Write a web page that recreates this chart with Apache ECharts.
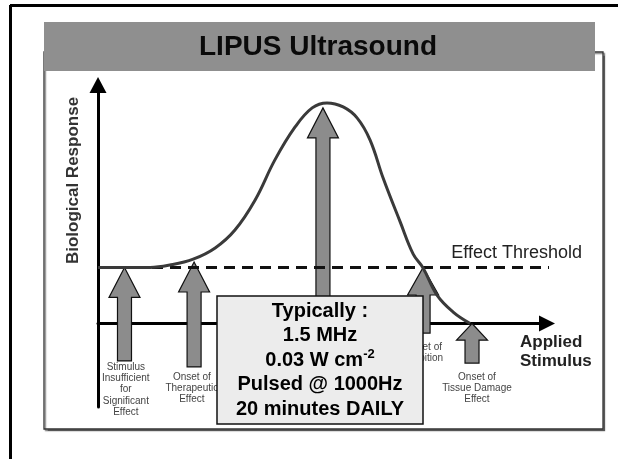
<!DOCTYPE html>
<html>

<head>
    <meta charset="utf-8">
    <title>LIPUS Ultrasound</title>
    <script src="https://cdn.jsdelivr.net/npm/echarts@6/dist/echarts.min.js"></script>
    <style>
        html, body { margin: 0; padding: 0; background: #fff; }
        #main { width: 618px; height: 459px; }
    </style>
</head>

<body>
    <div id="main"></div>
    <script type="text/javascript">
        // dose-response curve (applied stimulus -> biological response)
        var curveX = [0, 11.6, 16.0, 21.2, 26.1, 30.5, 35.0, 39.4, 43.9, 47.7, 51.0, 54.6, 57.7, 60.6, 63.5, 67.3, 70.2, 72.4, 75.5, 79.1, 82.9];
        var curveY = [23.5, 23.5, 24.5, 27.0, 31.7, 39.2, 51.8, 68.6, 82.4, 90.4, 92.5, 90.8, 86.2, 76.9, 61.0, 42.6, 29.1, 23.3, 11.9, 4.8, 0];
        var threshold = 23.5;
        var thresholdEnd = 101.3;

        // gray arrows: x, tip, base
        var arrowX = [5.9, 21.4, 50.1, 72.4, 83.3];
        var arrowTip = [23.5, 25.8, 90.4, 23.5, 0];
        var arrowBase = [-15.7, -18.2, -15, -4.0, -16.6];

        // small captions under the arrows
        var labelText = [
            'Stimulus\nInsufficient\nfor\nSignificant\nEffect',
            'Onset of\nTherapeutic\nEffect',
            'Onset of\nInhibition',
            'Onset of\nTissue Damage\nEffect'
        ];
        var labelX = [6.2, 20.9, 72.4, 84.4];
        var labelY = [-15.9, -20.1, -7.5, -20.1];

        var boxLines = ['Typically :', '1.5 MHz', '0.03 W cm{sup|-2}', 'Pulsed @ 1000Hz', '20 minutes DAILY'];

        var chart = echarts.init(document.getElementById('main'), null, { renderer: 'canvas' });

        var curveData = curveX.map(function (x, i) { return [x, curveY[i]]; });
        var arrowData = arrowX.map(function (x, i) { return [x, arrowTip[i], arrowBase[i]]; });
        var labelData = labelX.map(function (x, i) { return [x, labelY[i], i]; });

        var option = {
            backgroundColor: '#fff',
            animation: false,
            grid: { left: 98, right: 71, top: 85, bottom: 52, outerBoundsMode: 'none' },
            xAxis: {
                type: 'value', min: 0, max: 100,
                axisLine: { show: true, onZero: true, symbol: ['none', 'triangle'], symbolSize: [16, 16], lineStyle: { color: '#000', width: 3 } },
                axisTick: { show: false }, axisLabel: { show: false }, splitLine: { show: false }
            },
            yAxis: {
                type: 'value', min: -35, max: 100,
                axisLine: { show: true, symbol: ['none', 'triangle'], symbolSize: [17, 16], lineStyle: { color: '#000', width: 3 } },
                axisTick: { show: false }, axisLabel: { show: false }, splitLine: { show: false }
            },
            series: [
                {
                    // arrows
                    type: 'custom',
                    z: 2,
                    clip: false,
                    data: arrowData,
                    renderItem: function (params, api) {
                        var tip = api.coord([api.value(0), api.value(1)]);
                        var base = api.coord([api.value(0), api.value(2)]);
                        var len = base[1] - tip[1];
                        var head = Math.min(30, len * 0.42);
                        var hw = 15.5, sw = 7;
                        var x = tip[0];
                        return {
                            type: 'polygon',
                            shape: {
                                points: [[x, tip[1]], [x + hw, tip[1] + head], [x + sw, tip[1] + head], [x + sw, base[1]],
                                    [x - sw, base[1]], [x - sw, tip[1] + head], [x - hw, tip[1] + head]]
                            },
                            style: { fill: '#8c8c8c', stroke: '#111', lineWidth: 1.2 }
                        };
                    }
                },
                {
                    // captions
                    type: 'custom',
                    z: 2,
                    clip: false,
                    data: labelData,
                    renderItem: function (params, api) {
                        var p = api.coord([api.value(0), api.value(1)]);
                        return {
                            type: 'text',
                            x: p[0], y: p[1],
                            style: {
                                text: labelText[api.value(2)],
                                fill: '#444',
                                font: '10px "Liberation Sans", Arial, sans-serif',
                                align: 'center', verticalAlign: 'top', lineHeight: 11.3
                            }
                        };
                    }
                },
                {
                    // effect threshold
                    type: 'line',
                    z: 3,
                    clip: false,
                    symbol: 'none',
                    data: [[0, threshold], [thresholdEnd, threshold]],
                    lineStyle: { color: '#111', width: 3, type: [11, 7] }
                },
                {
                    type: 'line',
                    z: 4,
                    smooth: 0.4,
                    symbol: 'none',
                    data: curveData,
                    lineStyle: { color: '#3a3a3a', width: 3 }
                }
            ],
            graphic: [
                // outer frame
                { type: 'line', z: -10, shape: { x1: 10, y1: 5.5, x2: 618, y2: 5.5 }, style: { stroke: '#000', lineWidth: 3 } },
                { type: 'line', z: -10, shape: { x1: 10.5, y1: 5, x2: 10.5, y2: 459 }, style: { stroke: '#000', lineWidth: 3 } },
                // inner box
                {
                    type: 'rect', z: -5, shape: { x: 44, y: 52, width: 559, height: 377 },
                    style: { fill: '#fff', stroke: '#333', lineWidth: 1.3, shadowColor: 'rgba(0,0,0,0.45)', shadowBlur: 1, shadowOffsetX: 1.5, shadowOffsetY: 1.5 }
                },
                // title band
                { type: 'rect', z: -4, shape: { x: 44, y: 22, width: 551, height: 49 }, style: { fill: '#8f8f8f' } },
                {
                    type: 'text', z: -3, x: 318, y: 47,
                    style: { text: 'LIPUS Ultrasound', fill: '#0a0a0a', font: 'bold 28px "Liberation Sans", Arial, sans-serif', align: 'center', verticalAlign: 'middle' }
                },
                // axis titles
                {
                    type: 'text', z: 10, x: 73, y: 180.5, rotation: Math.PI / 2,
                    style: { text: 'Biological Response', fill: '#333', font: 'bold 17px "Liberation Sans", Arial, sans-serif', align: 'center', verticalAlign: 'middle' }
                },
                {
                    type: 'text', z: 10, x: 582, y: 253,
                    style: { text: 'Effect Threshold', fill: '#222', font: '18px "Liberation Sans", Arial, sans-serif', align: 'right', verticalAlign: 'middle' }
                },
                {
                    type: 'text', z: 10, x: 520, y: 352,
                    style: { text: 'Applied\nStimulus', fill: '#222', font: 'bold 17px "Liberation Sans", Arial, sans-serif', align: 'left', verticalAlign: 'middle', lineHeight: 19 }
                },
                // settings box
                {
                    type: 'rect', z: 100, shape: { x: 217, y: 296, width: 206, height: 128 },
                    style: { fill: '#ececec', stroke: '#111', lineWidth: 1.5 }
                },
                {
                    type: 'text', z: 101, x: 320, y: 360,
                    style: {
                        text: boxLines.join('\n'),
                        fill: '#000',
                        font: 'bold 20px "Liberation Sans", Arial, sans-serif',
                        align: 'center', verticalAlign: 'middle', lineHeight: 24.5,
                        rich: {
                            sup: { fontSize: 13, fontWeight: 'bold', fontFamily: 'Liberation Sans', fill: '#000', verticalAlign: 'top', lineHeight: 16 }
                        }
                    }
                }
            ]
        };

        chart.setOption(option);
    </script>
</body>

</html>
